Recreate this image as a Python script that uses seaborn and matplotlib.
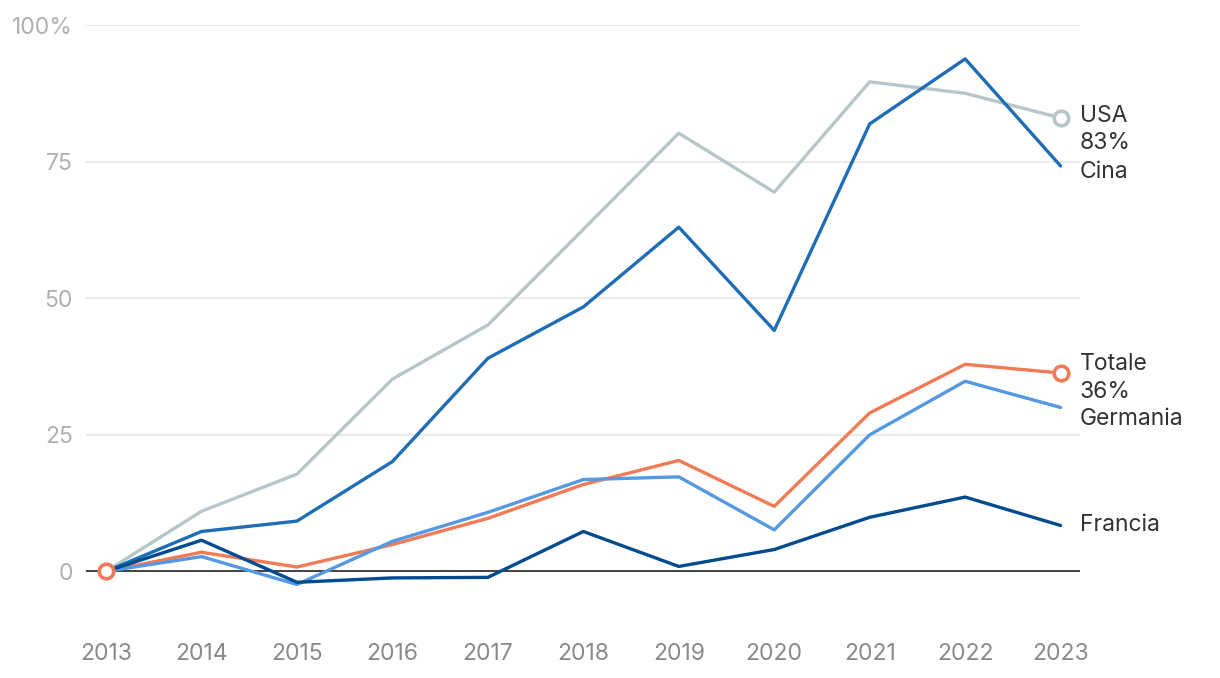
import numpy as np
import pandas as pd
import matplotlib
matplotlib.use("Agg")
import matplotlib.pyplot as plt
import seaborn as sns

# ====== Data (crescita % rispetto al 2013) ======
years = [2013, 2014, 2015, 2016, 2017, 2018, 2019, 2020, 2021, 2022, 2023]
usa = [0, 11.0, 17.8, 35.2, 45.1, 62.6, 80.2, 69.4, 89.6, 87.5, 83.0]
cina = [0, 7.3, 9.2, 20.1, 39.0, 48.4, 63.0, 44.1, 81.9, 93.8, 74.2]
totale = [0, 3.5, 0.8, 4.9, 9.7, 15.9, 20.3, 11.9, 29.0, 37.9, 36.3]
germania = [0, 2.7, -2.4, 5.5, 10.8, 16.8, 17.3, 7.6, 25.0, 34.8, 30.0]
francia = [0, 5.7, -2.0, -1.2, -1.1, 7.3, 0.9, 4.0, 9.9, 13.6, 8.4]

series_names = ["USA", "Cina", "Totale", "Germania", "Francia"]
yticks = [0, 25, 50, 75, 100]
ytick_labels = ["0", "25", "50", "75", "100%"]

colors = {
    "USA": "#b7c7c9",
    "Cina": "#1f6db6",
    "Totale": "#f07b56",
    "Germania": "#5499e2",
    "Francia": "#024b8f",
}

df = pd.DataFrame({
    "anno": years * 5,
    "valore": usa + cina + totale + germania + francia,
    "serie": sum([[n] * len(years) for n in series_names], []),
})

sns.set_style("white")
plt.rcParams["font.family"] = ["Inter", "DejaVu Sans"]

fig = plt.figure(figsize=(12.2, 6.78), dpi=100)
ax = fig.add_axes([0.0705, 0.0767, 0.8145, 0.8864])

# ====== Grid and zero line ======
for t in yticks[1:]:
    ax.axhline(t, color="#e6e6e6", lw=1.2, zorder=0)
ax.axhline(0, color="#333333", lw=1.3, zorder=1)

sns.lineplot(data=df, x="anno", y="valore", hue="serie", hue_order=series_names,
             palette=colors, linewidth=2.4, legend=False, ax=ax, zorder=3)

# ====== Open circle markers ======
df_end = df[df["anno"] == years[-1]].set_index("serie")["valore"]
for name, xs, ys in [("USA", [years[-1]], [df_end["USA"]]),
                     ("Totale", [years[0], years[-1]], [0, df_end["Totale"]])]:
    ax.scatter(xs, ys, s=110, facecolor="white", edgecolor=colors[name],
               linewidth=2.6, zorder=5, clip_on=False)

# ====== Direct labels ======
lx = years[-1] + 0.2
lab_kw = dict(fontsize=16.5, color="#333333", va="center", ha="left")
ax.text(lx, df_end["USA"] + 0.3, "USA", **lab_kw)
ax.text(lx, df_end["USA"] - 4.6, f"{df_end['USA']:.0f}%", **lab_kw)
ax.text(lx, df_end["Cina"] - 1.1, "Cina", **lab_kw)
ax.text(lx, df_end["Totale"] + 1.6, "Totale", **lab_kw)
ax.text(lx, df_end["Totale"] - 3.5, f"{df_end['Totale']:.0f}%", **lab_kw)
ax.text(lx, df_end["Germania"] - 2.2, "Germania", **lab_kw)
ax.text(lx, df_end["Francia"], "Francia", **lab_kw)

# ====== Axes styling ======
ax.set_xlim(2012.79, 2023.2)
ax.set_ylim(-10, 100)
ax.set_xticks(years)
ax.set_xticklabels([str(y) for y in years])
ax.set_yticks(yticks)
ax.set_yticklabels(ytick_labels)
ax.tick_params(axis="x", length=0, pad=12, labelsize=16.5, labelcolor="#8a8a8a")
ax.tick_params(axis="y", length=0, pad=9.5, labelsize=16.5, labelcolor="#b0b0b0")
ax.set_xlabel("")
ax.set_ylabel("")
sns.despine(ax=ax, left=True, bottom=True)

fig.savefig("out.png", dpi=100, facecolor="white")
